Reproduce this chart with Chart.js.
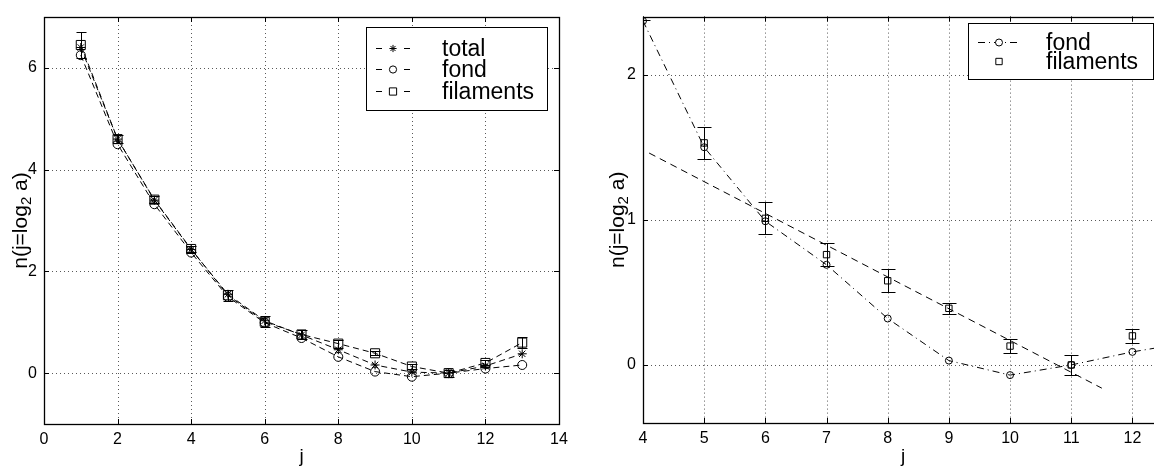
<!DOCTYPE html>
<html>
<head>
<meta charset="utf-8">
<script src="https://cdn.jsdelivr.net/npm/chart.js@4.4.0/dist/chart.umd.min.js"></script>
<style>
html, body { margin:0; padding:0; background:#fff; overflow:hidden; width:1154px; height:468px; }
#gauche { position:absolute; left:0; top:0; }
#droite { position:absolute; left:600px; top:0; }
</style>
</head>
<body>
<canvas id="gauche" width="580" height="468"></canvas>
<canvas id="droite" width="584" height="468"></canvas>
<script>
// échelles j et valeurs n(j)
const echelles  = [1, 2, 3, 4, 5, 6, 7, 8, 9, 10, 11, 12, 13];
const total     = [6.40, 4.60, 3.40, 2.43, 1.55, 1.03, 0.75, 0.46, 0.16, 0.02, 0.00, 0.14, 0.38];
const fond      = [6.25, 4.50, 3.32, 2.37, 1.50, 0.99, 0.69, 0.32, 0.03, -0.07, 0.00, 0.09, 0.16];
const filaments = [6.45, 4.60, 3.41, 2.44, 1.53, 1.01, 0.76, 0.58, 0.39, 0.13, 0.00, 0.20, 0.60];
const erreurFil = [0.25, 0.08, 0.07, 0.06, 0.11, 0.11, 0.08, 0.08, 0.04, 0.05, 0.07, 0.05, 0.11];

// droite ajustée (figure de droite)
const ajustJ = [4.1, 11.5];
const ajustN = [1.46, -0.16];

const ticksXGauche = [0, 2, 4, 6, 8, 10, 12, 14];
const ticksYGauche = [0, 2, 4, 6];
const ticksXDroite = [4, 5, 6, 7, 8, 9, 10, 11, 12];
const ticksYDroite = [0, 1, 2];

const police = '"Liberation Sans", Arial, Helvetica, sans-serif';
Chart.defaults.font.family = police;
Chart.defaults.color = '#000';

function points(x, y) {
    return x.map((v, i) => ({x: v, y: y[i]}));
}

// grille pointillée + petites graduations vers l'intérieur + cadre
const cadre = {
    id: 'cadre',
    beforeDatasetsDraw(chart) {
        const {ctx, chartArea: a, scales: {x, y}} = chart;
        const ligne = (x1, y1, x2, y2) => { ctx.beginPath(); ctx.moveTo(x1, y1); ctx.lineTo(x2, y2); ctx.stroke(); };
        ctx.save();
        ctx.lineWidth = 1;
        ctx.strokeStyle = 'rgba(0,0,0,0.65)';
        ctx.setLineDash([1, 3]);
        x.ticks.forEach(t => {
            const px = Math.round(x.getPixelForValue(t.value)) + 0.5;
            ligne(px, a.top, px, a.bottom);
        });
        y.ticks.forEach(t => {
            const py = Math.round(y.getPixelForValue(t.value)) + 0.5;
            ligne(a.left, py, a.right, py);
        });
        ctx.setLineDash([]);
        ctx.strokeStyle = '#000';
        x.ticks.forEach(t => {
            const px = Math.round(x.getPixelForValue(t.value)) + 0.5;
            ligne(px, a.bottom, px, a.bottom - 5);
            ligne(px, a.top, px, a.top + 5);
        });
        y.ticks.forEach(t => {
            const py = Math.round(y.getPixelForValue(t.value)) + 0.5;
            ligne(a.left, py, a.left + 5, py);
            ligne(a.right, py, a.right - 5, py);
        });
        ctx.restore();
    },
    afterDraw(chart) {
        const {ctx, chartArea: a} = chart;
        ctx.save();
        ctx.strokeStyle = '#000';
        ctx.lineWidth = 1.3;
        ctx.strokeRect(Math.round(a.left) + 0.5, Math.round(a.top) + 0.5, Math.round(a.width), Math.round(a.height));
        ctx.restore();
    }
};

// barres d'erreur
const barresErreur = {
    id: 'barresErreur',
    afterDatasetsDraw(chart, args, opts) {
        const {ctx, chartArea: a, scales: {x, y}} = chart;
        ctx.save();
        ctx.beginPath();
        ctx.rect(a.left, a.top, a.width, a.height);
        ctx.clip();
        ctx.strokeStyle = '#000';
        ctx.lineWidth = 1;
        chart.data.datasets.forEach(ds => {
            if (!ds.erreurs) return;
            ds.data.forEach((p, i) => {
                const px = Math.round(x.getPixelForValue(p.x)) + 0.5;
                const haut = Math.round(y.getPixelForValue(p.y + ds.erreurs[i])) + 0.5;
                const bas = Math.round(y.getPixelForValue(p.y - ds.erreurs[i])) + 0.5;
                ctx.beginPath();
                ctx.moveTo(px, haut); ctx.lineTo(px, bas);
                ctx.moveTo(px - opts.cap, haut); ctx.lineTo(px + opts.cap, haut);
                ctx.moveTo(px - opts.cap, bas); ctx.lineTo(px + opts.cap, bas);
                ctx.stroke();
            });
        });
        ctx.restore();
    }
};

// titre de l'axe y avec indice
const titreY = {
    id: 'titreY',
    afterDraw(chart, args, opts) {
        const {ctx, chartArea: a} = chart;
        ctx.save();
        ctx.fillStyle = '#000';
        ctx.textBaseline = 'middle';
        const grand = opts.taille + 'px ' + police;
        const petit = Math.round(opts.taille * 0.7) + 'px ' + police;
        ctx.font = grand;
        const w1 = ctx.measureText('n(j=log').width;
        const w3 = ctx.measureText(' a)').width;
        ctx.font = petit;
        const w2 = ctx.measureText('2').width;
        const tot = w1 + w2 + w3;
        ctx.translate(opts.x, (a.top + a.bottom) / 2);
        ctx.rotate(-Math.PI / 2);
        ctx.font = grand;
        ctx.fillText('n(j=log', -tot / 2, 0);
        ctx.font = petit;
        ctx.fillText('2', -tot / 2 + w1, opts.taille * 0.3);
        ctx.font = grand;
        ctx.fillText(' a)', -tot / 2 + w1 + w2, 0);
        ctx.restore();
    }
};

// légende encadrée façon matlab
const legende = {
    id: 'legende',
    afterDraw(chart, args, o) {
        const {ctx} = chart;
        ctx.save();
        ctx.fillStyle = '#fff';
        ctx.fillRect(o.x, o.y, o.w, o.h);
        ctx.strokeStyle = '#000';
        ctx.lineWidth = 1;
        ctx.strokeRect(o.x + 0.5, o.y + 0.5, o.w, o.h);
        chart.data.datasets.filter(ds => ds.label).forEach((ds, i) => {
            const cy = Math.round(o.y + o.premier + i * o.pas) + 0.5;
            ctx.strokeStyle = '#000';
            ctx.lineWidth = 1;
            if (ds.showLine) {
                ctx.setLineDash(o.tirets ? [] : (ds.borderDash || []));
                ctx.beginPath();
                if (o.tirets) {
                    ctx.moveTo(o.x + o.l1, cy); ctx.lineTo(o.x + o.l1 + 6, cy);
                    ctx.moveTo(o.x + o.l2 - 6, cy); ctx.lineTo(o.x + o.l2, cy);
                } else {
                    ctx.moveTo(o.x + o.l1, cy); ctx.lineTo(o.x + o.l2, cy);
                }
                ctx.stroke();
            }
            ctx.setLineDash([]);
            const mx = o.x + (o.l1 + o.l2) / 2;
            ctx.fillStyle = '#fff';
            Chart.helpers.drawPoint(ctx, {pointStyle: ds.pointStyle, radius: ds.pointRadius * o.echelle, borderWidth: 1, rotation: 0}, mx, cy);
            ctx.fillStyle = '#000';
            ctx.font = o.taille + 'px ' + police;
            ctx.textBaseline = 'middle';
            ctx.fillText(ds.label, o.x + o.t, cy + 1);
        });
        ctx.restore();
    }
};

function axes(xmin, xmax, ymin, ymax, tx, ty, largeurY, hauteurX) {
    return {
        x: {
            type: 'linear', min: xmin, max: xmax,
            afterBuildTicks: s => { s.ticks = tx.map(v => ({value: v})); },
            afterFit: s => { s.height = hauteurX; },
            grid: {display: false, drawTicks: false},
            border: {display: false},
            ticks: {padding: 6, color: '#000', font: {size: 16}, maxRotation: 0, autoSkip: false},
            title: {display: true, text: 'j', color: '#000', font: {size: 19}, padding: 0}
        },
        y: {
            type: 'linear', min: ymin, max: ymax,
            afterBuildTicks: s => { s.ticks = ty.map(v => ({value: v})); },
            afterFit: s => { s.width = largeurY; },
            grid: {display: false, drawTicks: false},
            border: {display: false},
            ticks: {padding: 7, color: '#000', font: {size: 16}, autoSkip: false}
        }
    };
}

const trait = {borderColor: '#000', borderWidth: 1, pointBorderColor: '#000', pointBackgroundColor: 'rgba(0,0,0,0)', pointBorderWidth: 1, fill: false, tension: 0};

new Chart(document.getElementById('gauche'), {
    type: 'scatter',
    data: {
        datasets: [
            {...trait, label: 'total', data: points(echelles, total), showLine: true, borderDash: [6, 4], pointStyle: 'star', pointRadius: 4.5},
            {...trait, label: 'fond', data: points(echelles, fond), showLine: true, borderDash: [6, 4], pointStyle: 'circle', pointRadius: 4.5},
            {...trait, label: 'filaments', data: points(echelles, filaments), erreurs: erreurFil, showLine: true, borderDash: [6, 4], pointStyle: 'rect', pointRadius: 6.4}
        ]
    },
    options: {
        responsive: false,
        animation: false,
        layout: {padding: {left: 0, right: 21, top: 17, bottom: 0}},
        scales: axes(0, 14, -1, 7, ticksXGauche, ticksYGauche, 44, 44),
        plugins: {
            legend: {display: false},
            tooltip: {enabled: false},
            barresErreur: {cap: 5},
            titreY: {x: 21, taille: 21},
            legende: {x: 366, y: 27, w: 181, h: 83, premier: 20.5, pas: 21.5, l1: 10, l2: 44, t: 76, taille: 23, echelle: 0.8, tirets: true}
        }
    },
    plugins: [cadre, barresErreur, titreY, legende]
});

new Chart(document.getElementById('droite'), {
    type: 'scatter',
    data: {
        datasets: [
            {...trait, label: 'fond', data: points(echelles.slice(3), fond.slice(3)), showLine: true, borderDash: [7, 4, 1, 4], pointStyle: 'circle', pointRadius: 3.5},
            {...trait, label: 'filaments', data: points(echelles.slice(3), filaments.slice(3)), erreurs: erreurFil.slice(3), showLine: false, pointStyle: 'rect', pointRadius: 4.5},
            {...trait, data: points(ajustJ, ajustN), showLine: true, borderDash: [7, 5], pointRadius: 0}
        ]
    },
    options: {
        responsive: false,
        animation: false,
        layout: {padding: {left: 0, right: 21, top: 14, bottom: 0}},
        scales: axes(4, 12.5, -0.4, 2.4, ticksXDroite, ticksYDroite, 43, 45),
        plugins: {
            legend: {display: false},
            tooltip: {enabled: false},
            barresErreur: {cap: 7},
            titreY: {x: 18, taille: 21},
            legende: {x: 368, y: 23, w: 185, h: 56, premier: 18.5, pas: 19.5, l1: 10, l2: 52, t: 78, taille: 23, echelle: 1}
        }
    },
    plugins: [cadre, barresErreur, titreY, legende]
});
</script>
</body>
</html>
